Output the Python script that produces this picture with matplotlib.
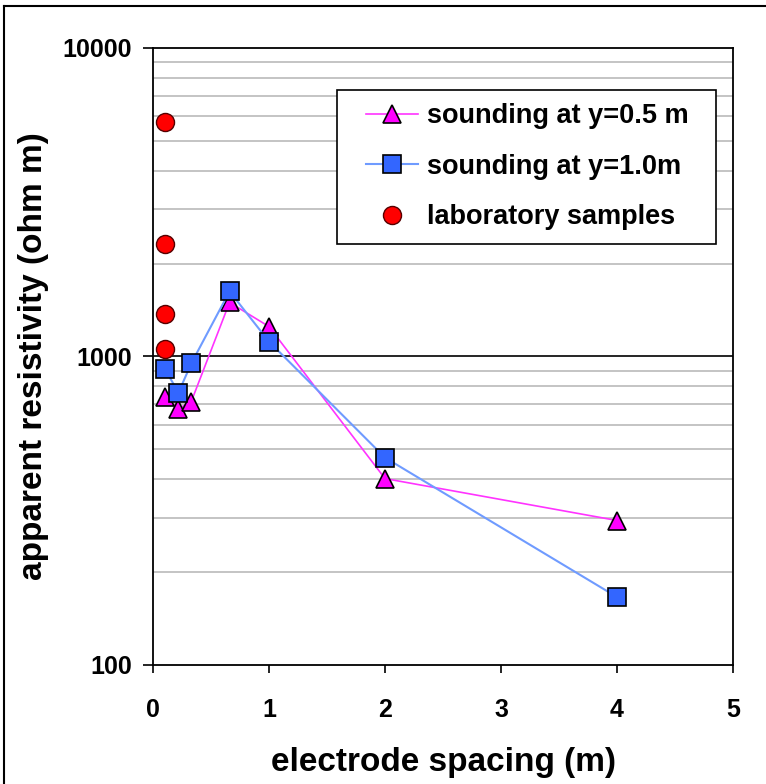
import numpy as np
import matplotlib
matplotlib.use("Agg")
from matplotlib import pyplot as plt
from matplotlib.lines import Line2D
from matplotlib.legend_handler import HandlerLine2D
from matplotlib.ticker import FixedLocator, NullFormatter

plt.rcParams["font.family"] = ["Liberation Sans", "DejaVu Sans"]
plt.rcParams["font.weight"] = "bold"

# soundings: electrode spacing [m] vs apparent resistivity [ohm m]
x_05 = [0.1, 0.22, 0.33, 0.66, 1.0, 2.0, 4.0]
rho_05 = [740, 678, 714, 1497, 1250, 402, 294]

x_10 = [0.1, 0.22, 0.33, 0.66, 1.0, 2.0, 4.0]
rho_10 = [914, 764, 949, 1626, 1118, 470, 166]

# laboratory samples
x_lab = [0.1, 0.1, 0.1, 0.1]
rho_lab = [5750, 2310, 1370, 1054]

fig = plt.figure(figsize=(7.66, 7.84), dpi=100)
ax = fig.add_axes([0.1997, 0.1518, 0.7573, 0.787])

ax.set_yscale("log")
ax.set_xlim(0, 5)
ax.set_ylim(100, 10000)

# horizontal grid: grey at minor decades, black at 1000
minors = [m * 10**d for d in (2, 3) for m in range(2, 10)]
for v in minors:
    ax.axhline(v, color="#c4c4c4", lw=1.4, zorder=0)
ax.axhline(1000, color="black", lw=1.2, zorder=0.5)

ax.plot(x_05, rho_05, color="#ff33ff", lw=1.2, marker="^", ms=13.5,
        mfc="#ff00ff", mec="black", mew=1.2, label="sounding at y=0.5 m", zorder=3)
ax.plot(x_10, rho_10, color="#6f9bff", lw=1.5, marker="s", ms=12.5,
        mfc="#3366ff", mec="black", mew=1.2, label="sounding at y=1.0m", zorder=4)
ax.plot(x_lab, rho_lab, ls="none", marker="o", ms=13,
        mfc="#ff0000", mec="#550000", mew=1.0, label="laboratory samples", zorder=5)

ax.yaxis.set_major_locator(FixedLocator([100, 1000, 10000]))
ax.yaxis.set_major_formatter(plt.FuncFormatter(lambda v, p: f"{int(v)}"))
ax.yaxis.set_minor_locator(FixedLocator([]))
ax.yaxis.set_minor_formatter(NullFormatter())
ax.set_xticks([0, 1, 2, 3, 4, 5])

ax.tick_params(axis="both", direction="out", width=1.2, labelsize=18)
ax.tick_params(axis="x", length=6, pad=18)
ax.tick_params(axis="y", length=7, pad=8)
for s in ax.spines.values():
    s.set_linewidth(1.3)

ax.set_xlabel("electrode spacing (m)", fontsize=24, fontweight="bold", labelpad=18)
ax.set_ylabel("apparent resistivity (ohm m)", fontsize=24, fontweight="bold", labelpad=10)

# fixed-width legend box, extra room on the left of the handles
hmap = {Line2D: HandlerLine2D(xpad=0.57)}
leg = ax.legend(loc="upper left", bbox_to_anchor=(0.3172, 0.5, 0.6534, 0.432),
                mode="expand", fontsize=19.5,
                frameon=True, fancybox=False, framealpha=1, edgecolor="black",
                borderpad=0.5, labelspacing=0.9, handlelength=2.5, handletextpad=0.33,
                borderaxespad=0, handler_map=hmap)
leg.get_frame().set_linewidth(1.2)
for t in leg.get_texts():
    t.set_fontweight("bold")

# frame lines along the top and left of the figure
fig.add_artist(Line2D([0.0055, 1.0], [0.9925, 0.9925], transform=fig.transFigure,
                      color="black", lw=1.5))
fig.add_artist(Line2D([0.0055, 0.0055], [0.0, 0.9925], transform=fig.transFigure,
                      color="black", lw=1.5))

fig.savefig("out.png", dpi=100, facecolor="white")
